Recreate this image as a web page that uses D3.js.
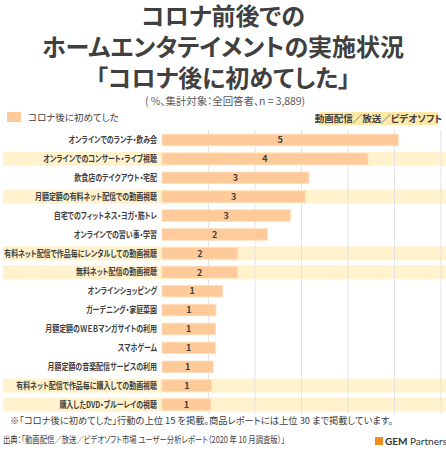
<!DOCTYPE html>
<html><head><meta charset="utf-8">
<script src="https://cdn.jsdelivr.net/npm/d3@7"></script>
<style>
body{margin:0;background:#fff;}
svg{display:block;font-family:"Noto Sans CJK JP","Noto Sans",sans-serif;font-feature-settings:"palt";}
</style></head>
<body><svg id="c" width="446" height="450"></svg>
<script>
const titleLines = ["コロナ前後での","ホームエンタテイメントの実施状況","「コロナ後に初めてした」"];
const subtitle = "( %、集計対象：全回答者、n = 3,889)";
const legendLabel = "コロナ後に初めてした";
const tagLabel = "動画配信／放送／ビデオソフト";
const categories = [
  "オンラインでのランチ・飲み会",
  "オンラインでのコンサート・ライブ視聴",
  "飲食店のテイクアウト・宅配",
  "月額定額の有料ネット配信での動画視聴",
  "自宅でのフィットネス・ヨガ・筋トレ",
  "オンラインでの習い事・学習",
  "有料ネット配信で作品毎にレンタルしての動画視聴",
  "無料ネット配信の動画視聴",
  "オンラインショッピング",
  "ガーデニング・家庭菜園",
  "月額定額のＷＥＢマンガサイトの利用",
  "スマホゲーム",
  "月額定額の音楽配信サービスの利用",
  "有料ネット配信で作品毎に購入しての動画視聴",
  "購入したDVD・ブルーレイの視聴"
];
const values = [5.08, 4.43, 3.16, 3.08, 2.76, 2.27, 1.63, 1.62, 1.30, 1.16, 1.15, 1.15, 1.10, 1.07, 1.05];
const highlighted = [false, true, false, true, false, false, true, true, false, false, false, false, false, true, true];
const xTicks = [1, 2, 3, 4, 5, 6];
const footnote = "※「コロナ後に初めてした」行動の上位 15 を掲載。商品レポートには上位 30 まで掲載しています。";
const source = "出典：「動画配信／放送／ビデオソフト市場 ユーザー分析レポート（2020 年 10 月調査版）」";
const brand = ["GEM", " Partners"];

const svg = d3.select("#c");
const textCol = "#404040";
const barCol = "#FFCA9A";
const stripeCol = "#FFF2CC";

// title (one text block, three lines)
const title = svg.append("text")
  .attr("x", 223).attr("y", 25)
  .attr("text-anchor","middle")
  .attr("font-size", 24).attr("font-weight", 700).attr("fill", textCol);
title.selectAll("tspan").data(titleLines).join("tspan")
  .attr("x", 223).attr("dy", (d,i)=> i === 0 ? 0 : 31)
  .text(d=>d);
svg.append("text").attr("x", 225).attr("y", 105).attr("text-anchor","middle")
  .attr("font-size", 10.5).attr("fill", "#595959")
  .attr("textLength",160).attr("lengthAdjust","spacing").text(subtitle);

// legend
svg.append("rect").attr("x",7).attr("y",112).attr("width",14).attr("height",10).attr("fill",barCol);
svg.append("text").attr("x",28).attr("y",121).attr("font-size",9.5).attr("fill",textCol).text(legendLabel);
svg.append("rect").attr("x",319).attr("y",112).attr("width",119).attr("height",13).attr("fill","#FFE8A8");
svg.append("text").attr("x",378.5).attr("y",122).attr("text-anchor","middle").attr("font-size",9.5)
  .attr("font-weight",700).attr("fill",textCol).text(tagLabel);

const x = d3.scaleLinear().domain([0, 6]).range([162, 441]);
const y = d3.scaleBand().domain(categories).range([130.5, 414]).paddingInner(0);
const bw = y.bandwidth();

// stripes
svg.append("g").selectAll("rect").data(categories.filter((c,i)=>highlighted[i])).join("rect")
  .attr("x", 3).attr("width", 443)
  .attr("y", d => y(d) + (bw-14)/2).attr("height", 14)
  .attr("fill", stripeCol);

// gridlines
svg.append("g").selectAll("line").data(xTicks).join("line")
  .attr("x1", d=>x(d)).attr("x2", d=>x(d)).attr("y1", 130).attr("y2", 414)
  .attr("stroke", "#e3e3e3").attr("stroke-width", 1);

// bars
const bh = 11.5;
svg.append("g").selectAll("rect").data(values).join("rect")
  .attr("x", x(0)).attr("y", (d,i)=> y(categories[i]) + (bw-bh)/2)
  .attr("width", d => x(d) - x(0)).attr("height", bh)
  .attr("fill", barCol).attr("stroke","#FFDCBA").attr("stroke-width",0.8);

// value labels
svg.append("g").selectAll("text").data(values).join("text")
  .attr("x", d => (x(0)+x(d))/2).attr("y", (d,i)=> y(categories[i]) + bw/2 + 3.3)
  .attr("text-anchor","middle").attr("font-size",9).attr("font-weight",700).attr("fill",textCol)
  .text(d => d3.format(".0f")(d));

// category labels (horizontally condensed to fit)
const labelG = svg.append("g");
const labels = labelG.selectAll("text").data(categories).join("text")
  .attr("x", 0).attr("y", 0)
  .attr("text-anchor","end").attr("font-size",8.8).attr("font-weight",700).attr("fill",textCol)
  .text(d=>d);
let maxW = 0;
labels.each(function(){ maxW = Math.max(maxW, this.getComputedTextLength()); });
const sx = Math.min(0.82, 153 / maxW);
labels.attr("transform", d => `translate(157,${y(d) + bw/2 + 3.2}) scale(${sx},1)`);

// footnotes
svg.append("text").attr("x",10).attr("y",424).attr("font-size",9.6).attr("fill",textCol)
  .attr("textLength",383).attr("lengthAdjust","spacingAndGlyphs").text(footnote);
svg.append("text").attr("x",3).attr("y",443).attr("font-size",9.4).attr("fill",textCol)
  .attr("textLength",282).attr("lengthAdjust","spacingAndGlyphs").text(source);

// brand
svg.append("rect").attr("x",375).attr("y",437).attr("width",8).attr("height",8).attr("fill","#F08C1E");
const bt = svg.append("text").attr("x",385).attr("y",445).attr("font-size",10).attr("fill","#333")
  .attr("font-family","Lato, 'Open Sans', sans-serif");
bt.append("tspan").attr("font-weight",700).text(brand[0]);
bt.append("tspan").text(brand[1]);
</script></body></html>
